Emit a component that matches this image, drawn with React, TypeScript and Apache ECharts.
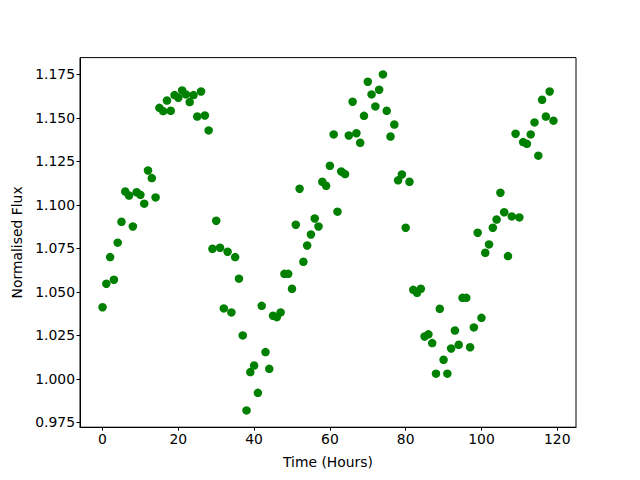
import React, { useEffect, useRef } from "react";
import * as echarts from "echarts";

const timeHours: number[] = Array.from({ length: 120 }, (_, i) => i);

const flux: number[] = [
  1.0412, 1.0547, 1.07, 1.057, 1.0783, 1.0903, 1.1077, 1.1054, 1.0876, 1.1073,
  1.1058, 1.1007, 1.1198, 1.1154, 1.1043, 1.1558, 1.1539, 1.16, 1.1541, 1.1631,
  1.1616, 1.1658, 1.1635, 1.1591, 1.1631, 1.1508, 1.1652, 1.1514, 1.1428, 1.0748,
  1.0909, 1.0754, 1.0405, 1.0731, 1.0382, 1.07, 1.0576, 1.025, 0.9819, 1.0039,
  1.0077, 0.992, 1.042, 1.0154, 1.0058, 1.0363, 1.0355, 1.0382, 1.0604, 1.0604,
  1.0518, 1.0886, 1.1093, 1.0673, 1.0767, 1.083, 1.0922, 1.0876, 1.1133, 1.111,
  1.1225, 1.1405, 1.0961, 1.1192, 1.1177, 1.1399, 1.1593, 1.1412, 1.1357, 1.1512,
  1.1708, 1.1635, 1.1566, 1.1662, 1.175, 1.1541, 1.1393, 1.1462, 1.1141, 1.1175,
  1.0869, 1.1133, 1.0512, 1.0495, 1.0518, 1.0244, 1.0256, 1.0206, 1.003, 1.0403,
  1.011, 1.003, 1.0175, 1.0278, 1.0196, 1.0466, 1.0466, 1.0182, 1.0296, 1.084,
  1.0351, 1.0725, 1.0773, 1.0869, 1.0916, 1.107, 1.0958, 1.0706, 1.0934, 1.1409,
  1.0928, 1.1361, 1.1351, 1.1405, 1.1474, 1.1283, 1.1604, 1.1508, 1.1652, 1.1484,
];

const xTicks: number[] = [0, 20, 40, 60, 80, 100, 120];
const yTicks: number[] = [0.975, 1.0, 1.025, 1.05, 1.075, 1.1, 1.125, 1.15, 1.175];

const xLabel = "Time (Hours)";
const yLabel = "Normalised Flux";

export default function App() {
  const ref = useRef<HTMLDivElement>(null);
  useEffect(() => {
    if (!ref.current) return;
    const chart = echarts.init(ref.current, null, { renderer: "svg" });
    const xMinD = Math.min(...timeHours);
    const xMaxD = Math.max(...timeHours);
    const yMinD = Math.min(...flux);
    const yMaxD = Math.max(...flux);
    const xm = (xMaxD - xMinD) * 0.05;
    const ym = (yMaxD - yMinD) * 0.05;
    const font = "DejaVu Sans";
    const fs = 13.9;
    chart.setOption({
      animation: false,
      backgroundColor: "#ffffff",
      grid: {
        left: 80,
        top: 57.6,
        width: 496,
        height: 369.6,
        show: true,
        borderColor: "#000000",
        borderWidth: 1,
        backgroundColor: "transparent",
      },
      xAxis: {
        type: "value",
        min: xMinD - xm,
        max: xMaxD + xm,
        name: xLabel,
        nameLocation: "middle",
        nameGap: 28,
        nameTextStyle: { fontFamily: font, fontSize: fs, color: "#000" },
        splitLine: { show: false },
        axisLine: { show: true, onZero: false, lineStyle: { color: "#000", width: 1 } },
        axisTick: {
          show: true,
          length: 3.5,
          customValues: xTicks,
          lineStyle: { color: "#000", width: 1 },
        },
        axisLabel: {
          customValues: xTicks,
          fontFamily: font,
          fontSize: fs,
          color: "#000",
          margin: 5,
          formatter: (v: number) => String(Math.round(v)),
        },
      },
      yAxis: {
        type: "value",
        min: yMinD - ym,
        max: yMaxD + ym,
        name: yLabel,
        nameLocation: "middle",
        nameGap: 56,
        nameTextStyle: { fontFamily: font, fontSize: fs, color: "#000" },
        splitLine: { show: false },
        axisLine: { show: true, onZero: false, lineStyle: { color: "#000", width: 1 } },
        axisTick: {
          show: true,
          length: 3.5,
          customValues: yTicks,
          lineStyle: { color: "#000", width: 1 },
        },
        axisLabel: {
          customValues: yTicks,
          fontFamily: font,
          fontSize: fs,
          color: "#000",
          margin: 5,
          formatter: (v: number) => v.toFixed(3),
        },
      },
      series: [
        {
          type: "scatter",
          data: timeHours.map((t, i) => [t, flux[i]]),
          symbol: "circle",
          symbolSize: 8.5,
          itemStyle: { color: "#008000", opacity: 1 },
          emphasis: { disabled: true },
        },
      ],
    });
    return () => chart.dispose();
  }, []);
  return (
    <div
      ref={ref}
      style={{ position: "absolute", left: 0, top: 0, width: 640, height: 480, background: "#fff" }}
    />
  );
}
